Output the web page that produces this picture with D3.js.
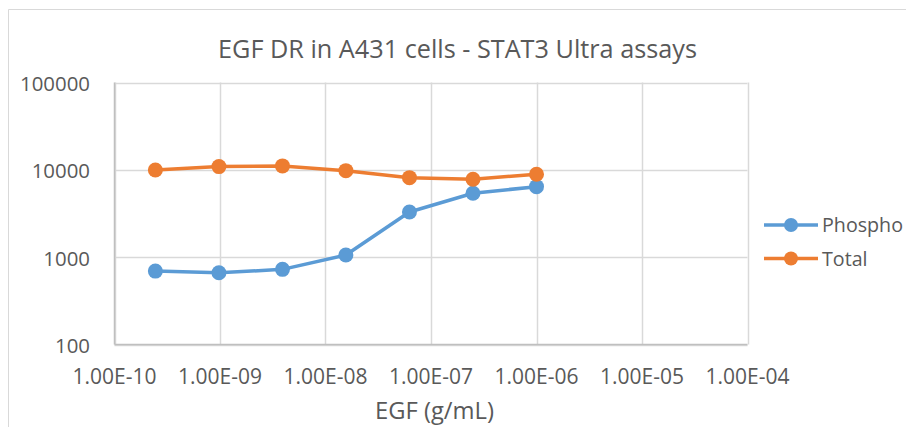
<!DOCTYPE html>
<html>
<head>
<meta charset="utf-8">
<script src="https://cdn.jsdelivr.net/npm/d3@7"></script>
<style>
  body { margin: 0; background: #fff; }
  text { font-family: "Open Sans", Lato, sans-serif; fill: #595959; }
</style>
</head>
<body>
<div id="chart"></div>
<script>
const width = 906
const height = 427

// EGF dose (g/mL), 4-fold dilutions
const doses = [2.44e-10, 9.77e-10, 3.91e-9, 1.56e-8, 6.25e-8, 2.5e-7, 1e-6];
const phospho = [693, 662, 725, 1057, 3290, 5390, 6420];
const total = [9970, 10890, 11090, 9790, 8140, 7800, 8910];
const seriesNames = ['Phospho', 'Total'];
const xTicks = [1e-10, 1e-9, 1e-8, 1e-7, 1e-6, 1e-5, 1e-4];
const yTicks = [100, 1000, 10000, 100000];

const colors = {Phospho: '#5b9bd5', Total: '#ed7d31'};
const margin = {top: 82.5, left: 114.5, right: 747.5, bottom: 344.5};

const svg = d3.select('#chart').append('svg').attr('width', width).attr('height', height);

// pick a font size so that a sample string is as wide as in the original
function fitSize(sample, targetWidth) {
  const t = svg.append('text').style('font-size', '20px').text(sample);
  const w = t.node().getComputedTextLength();
  t.remove();
  return (20 * targetWidth / w).toFixed(2) + 'px';
}

// chart frame (cropped)
svg.append('path')
  .attr('d', 'M8.5,' + height + 'V9.5H' + width)
  .attr('fill', 'none').attr('stroke', '#d9d9d9');

const x = d3.scaleLog().domain([1e-10, 1e-4]).range([margin.left, margin.right]);
const y = d3.scaleLog().domain([100, 100000]).range([margin.bottom, margin.top]);

// gridlines
svg.append('g').selectAll('line')
  .data(xTicks).enter().append('line')
  .attr('x1', d => Math.round(x(d)) + 0.5).attr('x2', d => Math.round(x(d)) + 0.5)
  .attr('y1', margin.top).attr('y2', margin.bottom)
  .attr('stroke', '#d9d9d9').attr('stroke-width', 1.5);

svg.append('g').selectAll('line')
  .data(yTicks).enter().append('line')
  .attr('y1', d => Math.round(y(d)) + 0.5).attr('y2', d => Math.round(y(d)) + 0.5)
  .attr('x1', margin.left).attr('x2', margin.right)
  .attr('stroke', '#d9d9d9').attr('stroke-width', 1.5);

// axis lines
svg.append('line')
  .attr('x1', margin.left).attr('x2', margin.left)
  .attr('y1', margin.top).attr('y2', margin.bottom)
  .attr('stroke', '#bfbfbf').attr('stroke-width', 1.5);
svg.append('line')
  .attr('x1', margin.left).attr('x2', margin.right)
  .attr('y1', margin.bottom).attr('y2', margin.bottom)
  .attr('stroke', '#bfbfbf').attr('stroke-width', 1.5);

const fmtX = d => d.toExponential(2).toUpperCase().replace(/E([+-])(\d)$/, 'E$10$2');

// tick labels
const ySize = fitSize('100000', 70);
svg.append('g').selectAll('text')
  .data(yTicks).enter().append('text')
  .attr('x', 90).attr('y', d => y(d) + 1)
  .attr('dy', '0.36em')
  .attr('text-anchor', 'end')
  .style('font-size', ySize)
  .text(d => d);

const xSize = fitSize('1.00E-10', 84);
svg.append('g').selectAll('text')
  .data(xTicks).enter().append('text')
  .attr('x', d => x(d)).attr('y', 376)
  .attr('dy', '0.36em')
  .attr('text-anchor', 'middle')
  .style('font-size', xSize)
  .text(fmtX);

// titles
const title = 'EGF DR in A431 cells - STAT3 Ultra assays';
svg.append('text')
  .attr('x', 457.5).attr('y', 48.5)
  .attr('dy', '0.36em')
  .attr('text-anchor', 'middle')
  .style('font-size', fitSize(title, 479))
  .text(title);

const xTitle = 'EGF (g/mL)';
svg.append('text')
  .attr('x', 434.5).attr('y', 410.5)
  .attr('dy', '0.36em')
  .attr('text-anchor', 'middle')
  .style('font-size', fitSize(xTitle, 119))
  .text(xTitle);

// series
const series = [
  {name: 'Phospho', values: phospho},
  {name: 'Total', values: total}
];

const line = d3.line().x((d, i) => x(doses[i])).y(d => y(d));

series.forEach(s => {
  svg.append('path')
    .datum(s.values)
    .attr('d', line)
    .attr('fill', 'none')
    .attr('stroke', colors[s.name])
    .attr('stroke-width', 3.5)
    .attr('stroke-linejoin', 'round');

  svg.append('g').selectAll('circle')
    .data(s.values).enter().append('circle')
    .attr('cx', (d, i) => x(doses[i]))
    .attr('cy', d => y(d))
    .attr('r', 7.5)
    .attr('fill', colors[s.name]);
});

// legend (keep "Phospho" just inside the right edge)
const legSize = fitSize('Phospho', 81);
const legend = svg.append('g').selectAll('g')
  .data(seriesNames).enter().append('g')
  .attr('transform', (d, i) => 'translate(0,' + (225 + i * 33.5) + ')');

legend.append('line')
  .attr('x1', 764).attr('x2', 818)
  .attr('stroke', d => colors[d]).attr('stroke-width', 3.5);
legend.append('circle')
  .attr('cx', 791).attr('r', 7)
  .attr('fill', d => colors[d]);
legend.append('text')
  .attr('x', 822).attr('dy', '0.36em')
  .style('font-size', legSize)
  .text(d => d);
</script>
</body>
</html>
